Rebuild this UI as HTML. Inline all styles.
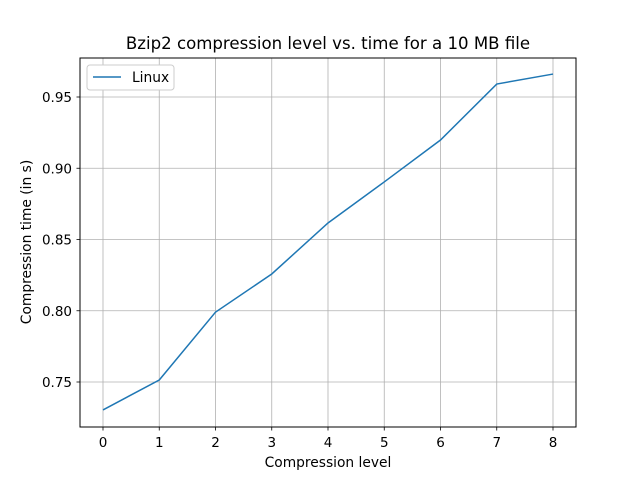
<!DOCTYPE html>
<html><head><meta charset="utf-8"><style>
body{margin:0;background:#fff;}
svg{display:block;font-family:"DejaVu Sans","Liberation Sans",sans-serif;}
</style></head><body>
<svg id="chart" width="640" height="480">
<rect x="0" y="0" width="640" height="480" fill="#fff"/>
<g id="grid"></g>
<g id="ticks"></g>
<rect x="80" y="58" width="496" height="369" fill="none" stroke="#000" stroke-width="1"/>
<path id="line" fill="none" stroke="#1f77b4" stroke-width="1.5"/>
<text x="328" y="49" text-anchor="middle" font-size="16.6">Bzip2 compression level vs. time for a 10 MB file</text>
<text x="328" y="467" text-anchor="middle" font-size="13.8">Compression level</text>
<text transform="translate(31,242) rotate(-90)" text-anchor="middle" font-size="13.8">Compression time (in s)</text>
<g>
<rect x="87" y="65" width="87" height="25" rx="3" fill="#fff" stroke="#ccc"/>
<line x1="93" y1="77" x2="121" y2="77" stroke="#1f77b4" stroke-width="1.5"/>
<text x="132" y="82" font-size="13.8">Linux</text>
</g>
</svg>
<script>
const levels=[0,1,2,3,4,5,6,7,8];
const times=[0.7304,0.7514,0.799,0.8258,0.8616,0.8904,0.9198,0.9591,0.9661];
const yTicks=[0.75,0.80,0.85,0.90,0.95];
const yTickLabels=["0.75","0.80","0.85","0.90","0.95"];
const xTicks=[0,1,2,3,4,5,6,7,8];
const NS="http://www.w3.org/2000/svg";
function xs(v){return 103+v*56.25;}
function ys(v){return 382-(v-0.75)*1425;}
const grid=document.getElementById('grid'),ticks=document.getElementById('ticks');
function mk(tag,attrs,parent){const e=document.createElementNS(NS,tag);for(const k in attrs)e.setAttribute(k,attrs[k]);parent.appendChild(e);return e;}
xTicks.forEach(t=>{
 const x=xs(t);
 const g=mk('line',{x1:x,x2:x,y1:58,y2:427,stroke:'#b0b0b0','stroke-width':0.8},grid);
 
 
 const tk=mk('line',{x1:x,x2:x,y1:427,y2:430.5,stroke:'#000','stroke-width':0.8},ticks);
 
 
 const tx=mk('text',{x:x,y:447,'text-anchor':'middle','font-size':13.5},ticks);
 tx.textContent=t;
 
 
});
yTicks.forEach((t,i)=>{
 const y=ys(t);
 const g=mk('line',{x1:80,x2:576,y1:y,y2:y,stroke:'#b0b0b0','stroke-width':0.8},grid);
 
 
 const tk=mk('line',{x1:76.5,x2:80,y1:y,y2:y,stroke:'#000','stroke-width':0.8},ticks);
 
 
 const tx=mk('text',{x:72,y:y+5,'text-anchor':'end','font-size':13.5},ticks);
 tx.textContent=yTickLabels[i];
 
 
});
document.getElementById('line').setAttribute('d',levels.map((l,i)=>(i?'L':'M')+xs(l)+','+ys(times[i])).join(' '));
</script>
</body></html>
